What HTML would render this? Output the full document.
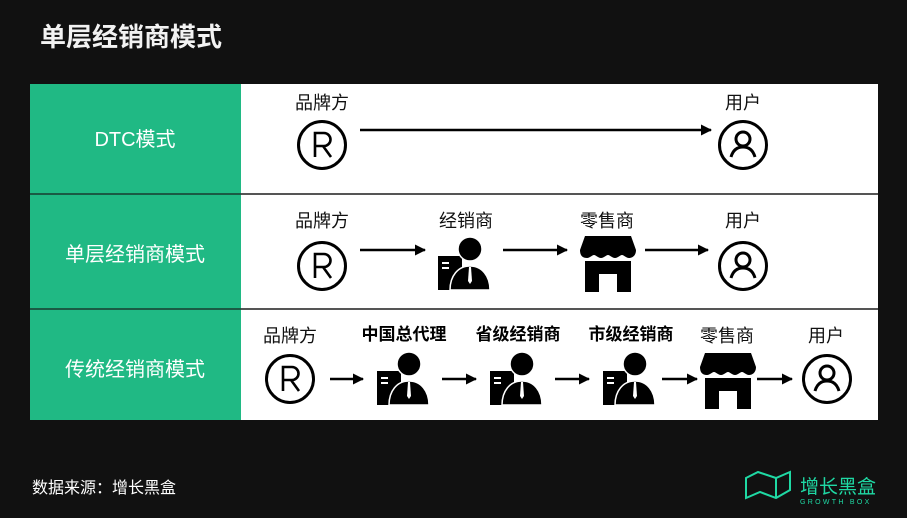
<!DOCTYPE html>
<html><head><meta charset="utf-8"><style>
html,body{margin:0;padding:0;background:#111;}
body{width:907px;height:518px;overflow:hidden;position:relative;font-family:"Liberation Sans","Noto Sans CJK SC",sans-serif;}
svg{position:absolute;left:0;top:0}
</style></head><body>
<svg width="907" height="518" viewBox="0 0 907 518" xmlns="http://www.w3.org/2000/svg" font-family="Liberation Sans, Noto Sans CJK SC, sans-serif">
<defs>
<symbol id="reg" viewBox="0 0 52 52"><circle cx="26" cy="26" r="23.5" fill="none" stroke="#000" stroke-width="3"/><path d="M19 38V14h9a6.5 6.5 0 0 1 0 13h-9M27 27l8 11" fill="none" stroke="#000" stroke-width="2.6"/></symbol>
<symbol id="usr" viewBox="0 0 52 52"><circle cx="26" cy="26" r="23.5" fill="none" stroke="#000" stroke-width="3"/><circle cx="26" cy="20" r="7" fill="none" stroke="#000" stroke-width="3"/><path d="M14 38c2-7 6-10 12-10s10 3 12 10" fill="none" stroke="#000" stroke-width="3"/></symbol>
<symbol id="agt" viewBox="0 0 52 54"><rect x="0" y="20" width="24" height="34" fill="#000"/><rect x="4" y="26" width="7" height="2" fill="#fff"/><rect x="4" y="31" width="7" height="2" fill="#fff"/><circle cx="32" cy="13" r="12" fill="#000" stroke="#fff" stroke-width="1.5"/><path d="M12 54c0-14 8-24 20-24s20 10 20 24z" fill="#000" stroke="#fff" stroke-width="1.5"/><path d="M31 31h2l1 14-2 3-2-3z" fill="#fff"/></symbol>
<symbol id="shop" viewBox="0 0 56 56"><path d="M5 0h46l5 14c0 6-4 8-7 8-3 0-5-3-7-3s-4 3-7 3-5-3-7-3-4 3-7 3-5-3-7-3-4 3-7 3C2 22 0 19 0 14z" fill="#000"/><path d="M5 25h46v31H37V38H19v18H5z" fill="#000"/></symbol>
<marker id="ah" markerWidth="11" markerHeight="11" refX="10" refY="5.5" orient="auto" markerUnits="userSpaceOnUse"><path d="M0 0L11 5.5 0 11z" fill="#000"/></marker>
</defs>
<text x="40" y="46" font-size="26" font-weight="bold" fill="#f2f2f2">单层经销商模式</text>
<rect x="30" y="84" width="848" height="336" fill="#fff"/>
<rect x="30" y="84" width="211" height="336" fill="#20b984"/>
<rect x="30" y="193" width="848" height="2" fill="#555"/>
<rect x="30" y="308" width="848" height="2" fill="#555"/>
<rect x="30" y="193" width="211" height="2" fill="#1a5a44"/>
<rect x="30" y="308" width="211" height="2" fill="#1a5a44"/>
<g fill="#fff" font-size="20" text-anchor="middle"><text x="135" y="146">DTC模式</text><text x="135" y="261">单层经销商模式</text><text x="135" y="376">传统经销商模式</text></g>
<g font-size="18" fill="#111" text-anchor="middle">
<text x="322" y="109">品牌方</text><text x="743" y="109">用户</text>
<text x="322" y="227">品牌方</text><text x="466" y="227">经销商</text><text x="607" y="227">零售商</text><text x="743" y="227">用户</text>
<text x="290" y="342">品牌方</text><text x="727" y="342">零售商</text><text x="826" y="342">用户</text>
</g>
<g font-size="17" font-weight="bold" fill="#000" text-anchor="middle"><text x="404" y="340">中国总代理</text><text x="518" y="340">省级经销商</text><text x="631" y="340">市级经销商</text></g>
<use href="#reg" x="296" y="119" width="52" height="52"/><use href="#usr" x="717" y="119" width="52" height="52"/>
<use href="#reg" x="296" y="240" width="52" height="52"/><use href="#agt" x="438" y="236" width="52" height="54"/><use href="#shop" x="580" y="236" width="56" height="56"/><use href="#usr" x="717" y="240" width="52" height="52"/>
<use href="#reg" x="264" y="353" width="52" height="52"/><use href="#agt" x="377" y="351" width="52" height="54"/><use href="#agt" x="490" y="351" width="52" height="54"/><use href="#agt" x="603" y="351" width="52" height="54"/><use href="#shop" x="700" y="353" width="56" height="56"/><use href="#usr" x="801" y="353" width="52" height="52"/>
<g stroke="#000" stroke-width="2.5" marker-end="url(#ah)">
<line x1="360" y1="130" x2="711" y2="130"/>
<line x1="360" y1="250" x2="425" y2="250"/><line x1="503" y1="250" x2="567" y2="250"/><line x1="645" y1="250" x2="708" y2="250"/>
<line x1="330" y1="379" x2="363" y2="379"/><line x1="442" y1="379" x2="476" y2="379"/><line x1="555" y1="379" x2="589" y2="379"/><line x1="662" y1="379" x2="697" y2="379"/><line x1="757" y1="379" x2="792" y2="379"/>
</g>
<text x="32" y="493" font-size="16" fill="#fff">数据来源：增长黑盒</text>
<g fill="none" stroke="#1fd9a4" stroke-width="2"><path d="M746 478l12-6 18 6 14-6v18l-14 8-16-6-14 6z"/><path d="M776 478v20"/></g>
<text x="800" y="493" font-size="19" fill="#1fd9a4">增长黑盒</text>
<text x="800" y="504" font-size="7" fill="#1fd9a4" letter-spacing="2.3">GROWTH BOX</text>
</svg>
</body></html>
